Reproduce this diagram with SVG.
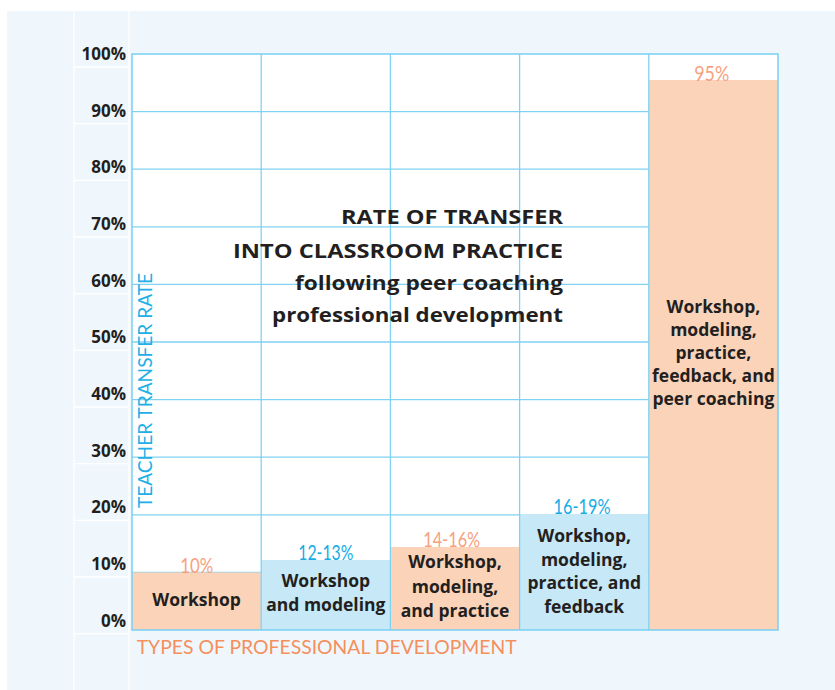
<svg xmlns="http://www.w3.org/2000/svg" width="835" height="690" viewBox="0 0 835 690">
<style>
.tick{font-family:"Open Sans","Liberation Sans",sans-serif;font-weight:700;font-size:17px;fill:#231F20;text-anchor:end}
.title{font-family:"Open Sans","Liberation Sans",sans-serif;font-weight:700;font-size:19.5px;fill:#231F20;text-anchor:end}
.lbl{font-family:"Open Sans","Liberation Sans",sans-serif;font-weight:700;font-size:17.5px;fill:#231F20;text-anchor:middle}
.val{font-family:"Lato","Open Sans",sans-serif;font-weight:400;font-size:20.5px;text-anchor:middle}
.peachT{fill:#F6A27F}
.cyanT{fill:#16ADE6}
.grid{stroke:#80D1F2;stroke-width:1.3;fill:none}
.sep{stroke:#FFFFFF;stroke-width:1.3}
.peach{fill:#FBD3B9}
.blue{fill:#C6E8F7}
.axis{font-family:"Lato","Open Sans",sans-serif;font-weight:400;font-size:19.5px}
</style>
<rect x="7" y="11" width="828" height="679" fill="#EFF7FD"/>
<g id="label-column">
<line class="sep" x1="74" y1="11" x2="74" y2="690"/>
<line class="sep" x1="129" y1="11" x2="129" y2="690"/>
<line class="sep" x1="74" y1="67" x2="129" y2="67"/>
<line class="sep" x1="74" y1="123.7" x2="129" y2="123.7"/>
<line class="sep" x1="74" y1="180.3" x2="129" y2="180.3"/>
<line class="sep" x1="74" y1="237" x2="129" y2="237"/>
<line class="sep" x1="74" y1="293.7" x2="129" y2="293.7"/>
<line class="sep" x1="74" y1="350.3" x2="129" y2="350.3"/>
<line class="sep" x1="74" y1="407" x2="129" y2="407"/>
<line class="sep" x1="74" y1="463.7" x2="129" y2="463.7"/>
<line class="sep" x1="74" y1="520.3" x2="129" y2="520.3"/>
<line class="sep" x1="74" y1="577" x2="129" y2="577"/>
<line class="sep" x1="74" y1="633.7" x2="129" y2="633.7"/>
<text class="tick" x="126" y="60">100%</text>
<text class="tick" x="126" y="116.7">90%</text>
<text class="tick" x="126" y="173.3">80%</text>
<text class="tick" x="126" y="230">70%</text>
<text class="tick" x="126" y="286.7">60%</text>
<text class="tick" x="126" y="343.3">50%</text>
<text class="tick" x="126" y="400">40%</text>
<text class="tick" x="126" y="456.7">30%</text>
<text class="tick" x="126" y="513.3">20%</text>
<text class="tick" x="126" y="570">10%</text>
<text class="tick" x="126" y="626.7">0%</text>
</g>
<rect x="132" y="54" width="646" height="576" fill="#FFFFFF"/>
<g id="grid" class="grid">
<line x1="132" y1="111.6" x2="778" y2="111.6"/>
<line x1="132" y1="169.2" x2="778" y2="169.2"/>
<line x1="132" y1="226.8" x2="778" y2="226.8"/>
<line x1="132" y1="284.4" x2="778" y2="284.4"/>
<line x1="132" y1="342" x2="778" y2="342"/>
<line x1="132" y1="399.6" x2="778" y2="399.6"/>
<line x1="132" y1="457.2" x2="778" y2="457.2"/>
<line x1="132" y1="514.8" x2="778" y2="514.8"/>
<line x1="132" y1="572.4" x2="778" y2="572.4"/>
</g>
<g id="bar-workshop">
<rect class="peach" x="132" y="572.4" width="129.2" height="57.6"/>
<text class="val peachT" x="196.7" y="573" textLength="33" lengthAdjust="spacingAndGlyphs">10%</text>
<text class="lbl" x="196.6" y="606">Workshop</text>
</g>
<g id="bar-modeling">
<rect class="blue" x="261.2" y="560" width="129.2" height="70"/>
<text class="val cyanT" x="325.8" y="560" textLength="55" lengthAdjust="spacingAndGlyphs">12-13%</text>
<text class="lbl" x="325.8" y="587">Workshop</text>
<text class="lbl" x="325.8" y="610.7">and modeling</text>
</g>
<g id="bar-practice">
<rect class="peach" x="390.4" y="547" width="129.2" height="83"/>
<text class="val peachT" x="451.7" y="547" textLength="57" lengthAdjust="spacingAndGlyphs">14-16%</text>
<text class="lbl" x="455" y="568">Workshop,</text>
<text class="lbl" x="455" y="592.5">modeling,</text>
<text class="lbl" x="455" y="616.7">and practice</text>
</g>
<g id="bar-feedback">
<rect class="blue" x="519.6" y="514" width="129.2" height="116"/>
<text class="val cyanT" x="582" y="513.5" textLength="57" lengthAdjust="spacingAndGlyphs">16-19%</text>
<text class="lbl" x="584.2" y="541.7">Workshop,</text>
<text class="lbl" x="584.2" y="565.5">modeling,</text>
<text class="lbl" x="584.2" y="589">practice, and</text>
<text class="lbl" x="584.2" y="612.7">feedback</text>
</g>
<g id="bar-coaching">
<rect class="peach" x="648.8" y="80" width="129.2" height="550"/>
<text class="val peachT" x="711.7" y="80.7" textLength="35" lengthAdjust="spacingAndGlyphs">95%</text>
<text class="lbl" x="713.4" y="313">Workshop,</text>
<text class="lbl" x="713.4" y="336">modeling,</text>
<text class="lbl" x="713.4" y="359">practice,</text>
<text class="lbl" x="713.4" y="382">feedback, and</text>
<text class="lbl" x="713.4" y="405">peer coaching</text>
</g>
<g id="frame" class="grid">
<line x1="261.2" y1="54" x2="261.2" y2="630"/>
<line x1="390.4" y1="54" x2="390.4" y2="630"/>
<line x1="519.6" y1="54" x2="519.6" y2="630"/>
<line x1="648.8" y1="54" x2="648.8" y2="630"/>
<rect x="132" y="54" width="646" height="576" stroke-width="1.6"/>
</g>
<g id="title">
<text class="title" x="563" y="224.3" textLength="222" lengthAdjust="spacingAndGlyphs">RATE OF TRANSFER</text>
<text class="title" x="563" y="258.3" textLength="330" lengthAdjust="spacingAndGlyphs">INTO CLASSROOM PRACTICE</text>
<text class="title" x="563" y="290" textLength="268" lengthAdjust="spacingAndGlyphs">following peer coaching</text>
<text class="title" x="563" y="321.7" textLength="291" lengthAdjust="spacingAndGlyphs">professional development</text>
</g>
<text class="axis" x="136.7" y="654.3" fill="#F58F5C" textLength="380" lengthAdjust="spacingAndGlyphs">TYPES OF PROFESSIONAL DEVELOPMENT</text>
<text class="axis" transform="translate(151.7,508) rotate(-90)" x="0" y="0" fill="#22AEE6" textLength="235" lengthAdjust="spacingAndGlyphs">TEACHER TRANSFER RATE</text>
</svg>
